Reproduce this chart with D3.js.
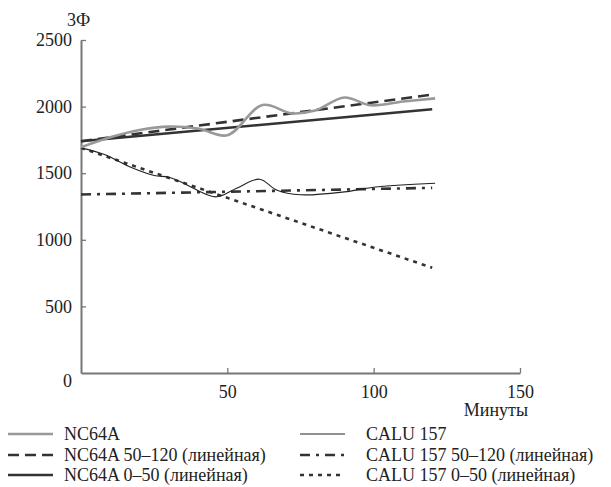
<!DOCTYPE html>
<html>
<head>
<meta charset="utf-8">
<script src="https://cdn.jsdelivr.net/npm/d3@7"></script>
<style>
  body { margin: 0; background: #fff; }
  svg text { font-family: "Liberation Serif", "DejaVu Serif", serif; fill: #222; }
</style>
</head>
<body>
<div id="chart"></div>
<script>
// values (minutes, value)
const nc64a = [[0, 1695], [10, 1770], [20, 1825], [30, 1850], [40, 1835], [50, 1785],
    [62, 2012], [72, 1950], [80, 1970], [90, 2068], [99, 2010], [110, 2038], [121, 2062]]
const calu157 = [[0, 1690], [8, 1640], [17, 1545], [25, 1483], [30, 1470], [35, 1425],
    [46, 1322], [53, 1385], [61, 1455], [67, 1372], [75, 1338], [90, 1360], [100, 1395], [121, 1425]]
const nc64aFit50_120 = [[0, 1740], [120, 2090]]
const nc64aFit0_50 = [[0, 1740], [120, 1980]]
const caluFit50_120 = [[0, 1340], [120, 1390]]
const caluFit0_50 = [[0, 1690], [120, 790]]

const xTicks = [50, 100, 150]
const yTicks = [500, 1000, 1500, 2000, 2500]

const W = 611, H = 487
const margin = { top: 40, right: 91, bottom: 114, left: 81 },
    width = W - margin.left - margin.right,
    height = H - margin.top - margin.bottom;

const svg = d3.select("#chart")
    .append("svg")
    .attr("width", W)
    .attr("height", H)

const g = svg.append("g")
    .attr("transform", `translate(${margin.left},${margin.top})`);

let x = d3.scaleLinear().domain([0, 150]).range([0, width])
let y = d3.scaleLinear().domain([0, 2500]).range([height, 0])

const axisColor = "#777"

// y axis
let yAxis = g.append("g")
    .call(d3.axisLeft(y).tickValues(yTicks).tickFormat(d3.format("d"))
        .tickSizeInner(-5).tickSizeOuter(0).tickPadding(9))
yAxis.select(".domain").attr("stroke", axisColor).attr("stroke-width", 2)
yAxis.selectAll("line").attr("stroke", axisColor).attr("stroke-width", 1.3)
yAxis.selectAll("text")
    .attr("font-size", "18px")
    .attr("fill", "#222")

// x axis
let xAxis = g.append("g")
    .attr("transform", `translate(0,${height})`)
    .call(d3.axisBottom(x).tickValues(xTicks).tickFormat(d3.format("d"))
        .tickSizeInner(-5).tickSizeOuter(0).tickPadding(12))
xAxis.select(".domain").attr("stroke", axisColor).attr("stroke-width", 2)
xAxis.selectAll("line").attr("stroke", axisColor).attr("stroke-width", 1.3)
xAxis.selectAll("text")
    .attr("font-size", "18px")
    .attr("fill", "#222")

// corner zero
g.append("text")
    .attr("x", -9).attr("y", height + 14)
    .attr("text-anchor", "end")
    .attr("font-size", "18px")
    .text("0")

g.append("text")
    .attr("x", -14).attr("y", -14)
    .attr("font-size", "18px")
    .text("3Ф")

g.append("text")
    .attr("x", width + 8).attr("y", height + 43)
    .attr("text-anchor", "end")
    .attr("font-size", "18px")
    .text("Минуты")

const series = [
    { data: nc64aFit0_50, color: "#333", w: 2.6, dash: null, curve: d3.curveLinear },
    { data: nc64aFit50_120, color: "#333", w: 2.6, dash: "11,6", curve: d3.curveLinear },
    { data: caluFit50_120, color: "#333", w: 2.6, dash: "10,6,3,6", curve: d3.curveLinear },
    { data: caluFit0_50, color: "#333", w: 2.6, dash: "4,5", curve: d3.curveLinear },
    { data: calu157, color: "#222", w: 1.1, dash: null, curve: d3.curveCatmullRom },
    { data: nc64a, color: "#999", w: 2.6, dash: null, curve: d3.curveCatmullRom }
]

series.forEach(function (s) {
    g.append("path")
        .datum(s.data)
        .attr("fill", "none")
        .attr("stroke", s.color)
        .attr("stroke-width", s.w)
        .attr("stroke-dasharray", s.dash)
        .attr("d", d3.line()
            .curve(s.curve)
            .x(function (d) { return x(d[0]) })
            .y(function (d) { return y(d[1]) })
        )
})

// legend
const legend = [
    { label: "NC64A", color: "#999", w: 2.6, dash: null, col: 0, row: 0 },
    { label: "NC64A 50–120 (линейная)", color: "#333", w: 2.6, dash: "11,6", col: 0, row: 1 },
    { label: "NC64A 0–50 (линейная)", color: "#333", w: 2.6, dash: null, col: 0, row: 2 },
    { label: "CALU 157", color: "#222", w: 1.1, dash: null, col: 1, row: 0 },
    { label: "CALU 157 50–120 (линейная)", color: "#333", w: 2.6, dash: "10,6,3,6", col: 1, row: 1 },
    { label: "CALU 157 0–50 (линейная)", color: "#333", w: 2.6, dash: "4,5", col: 1, row: 2 }
]
const colX = [8, 300], textX = [64, 366], rowY = [434, 455, 475]

legend.forEach(function (d) {
    let lx = colX[d.col], ly = rowY[d.row]
    svg.append("line")
        .attr("x1", lx).attr("x2", lx + 45)
        .attr("y1", ly).attr("y2", ly)
        .attr("stroke", d.color)
        .attr("stroke-width", d.w)
        .attr("stroke-dasharray", d.dash)
    svg.append("text")
        .attr("x", textX[d.col]).attr("y", ly + 6)
        .attr("font-size", "18px")
        .text(d.label)
})
</script>
</body>
</html>
